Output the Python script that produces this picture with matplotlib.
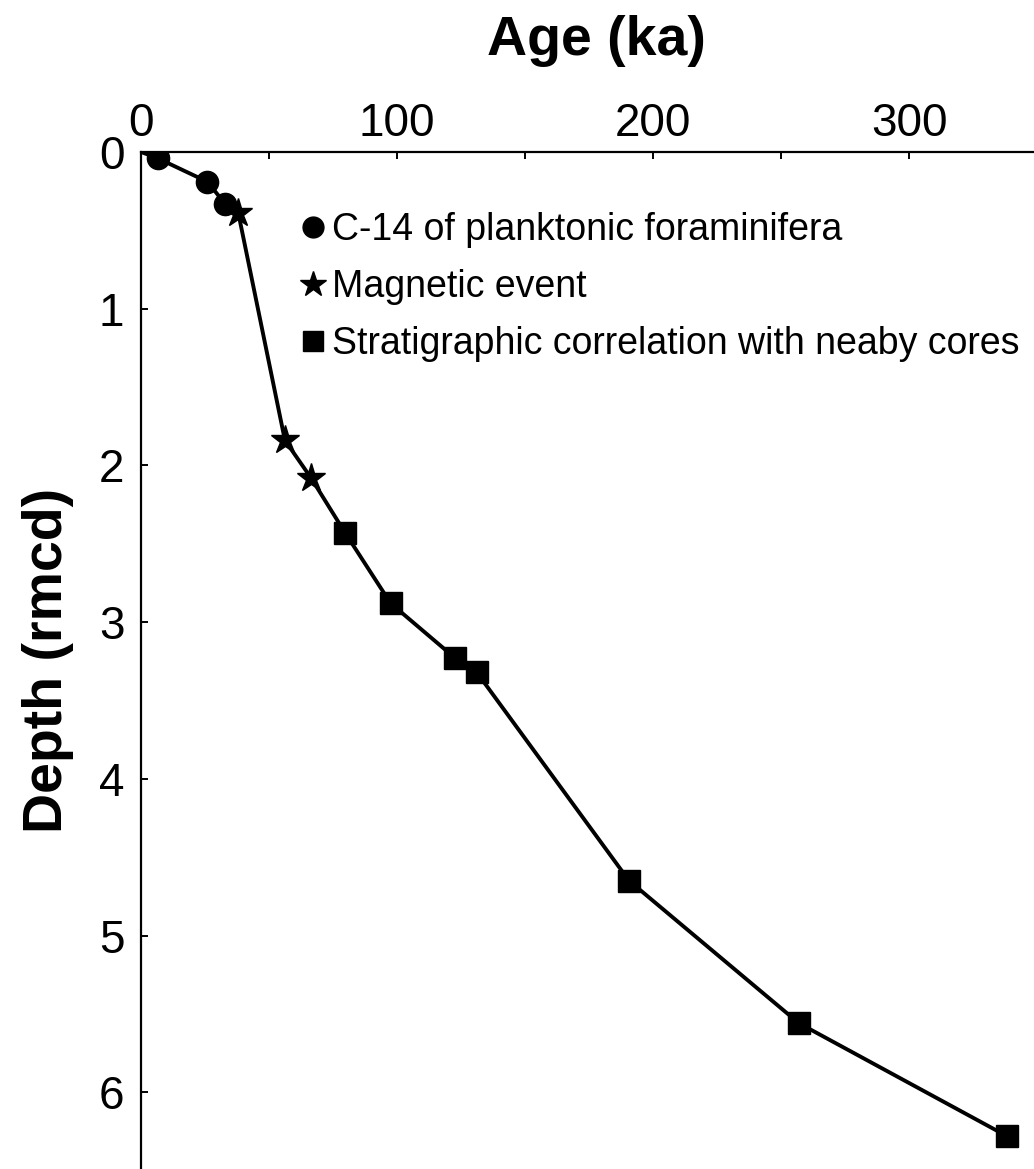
import numpy as np
import matplotlib
matplotlib.use('Agg')
import matplotlib.pyplot as plt
from matplotlib.lines import Line2D

plt.rcParams['font.family'] = ['Liberation Sans', 'DejaVu Sans']

# Age-depth tie points (age in ka, depth in rmcd)
c14_age = [6.5, 25.9, 32.8]
c14_depth = [0.04, 0.19, 0.33]
mag_age = [38.0, 56.2, 66.4]
mag_depth = [0.39, 1.84, 2.08]
strat_age = [79.7, 97.5, 122.7, 131.1, 190.6, 257.0, 338.2]
strat_depth = [2.43, 2.88, 3.23, 3.32, 4.65, 5.56, 6.28]
top_age, top_depth = 0.0, 0.0

labels = ['C-14 of planktonic foraminifera',
          'Magnetic event',
          'Stratigraphic correlation with neaby cores']

# age model line through all tie points, starting at the core top
line_age = [top_age] + c14_age + mag_age + strat_age
line_depth = [top_depth] + c14_depth + mag_depth + strat_depth

fig = plt.figure(figsize=(10.34, 11.69), dpi=100)
ax = fig.add_axes([0.1364, 0.0, 0.8636, 0.87])

ax.plot(line_age, line_depth, color='black', lw=2.8, zorder=2)
ax.plot(c14_age, c14_depth, 'o', color='black', ms=16, zorder=3)
ax.plot(mag_age, mag_depth, '*', color='black', ms=21, zorder=3)
ax.plot(strat_age, strat_depth, 's', color='black', ms=16, zorder=3)

ax.set_xlim(0, 348.8)
ax.set_ylim(6.49, 0)

ax.xaxis.tick_top()
ax.xaxis.set_label_position('top')
ax.set_xticks([0, 100, 200, 300])
ax.set_xticks([50, 150, 250], minor=True)
ax.set_yticks([0, 1, 2, 3, 4, 5, 6])
ax.tick_params(which='both', direction='in', length=5, width=1.4,
               labelsize=33)
ax.tick_params(axis='x', which='major', pad=4)
ax.tick_params(axis='y', pad=12)

for s in ['right', 'bottom']:
    ax.spines[s].set_visible(False)
for s in ['top', 'left']:
    ax.spines[s].set_linewidth(1.6)

ax.set_xlabel('Age (ka)', fontsize=40, fontweight='bold')
ax.xaxis.set_label_coords(0.5095, 1.0954)
ax.set_ylabel('Depth (rmcd)', fontsize=40, fontweight='bold', labelpad=18)

handles = [Line2D([], [], ls='none', marker='o', color='black', ms=15),
           Line2D([], [], ls='none', marker='*', color='black', ms=19),
           Line2D([], [], ls='none', marker='s', color='black', ms=14)]
ax.legend(handles, labels, loc='upper left', bbox_to_anchor=(0.178, 0.9405),
          frameon=False, fontsize=27, handlelength=0.7, handletextpad=0.15,
          labelspacing=0.55, borderpad=0, borderaxespad=0)

plt.savefig('out.png', dpi=100)
